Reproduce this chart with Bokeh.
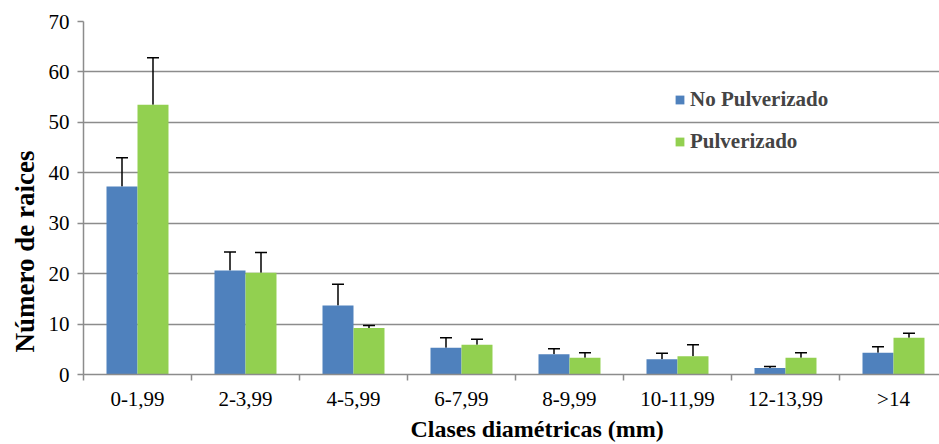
from bokeh.plotting import figure
from bokeh.models import (Range1d, FixedTicker, ColumnDataSource, Whisker, TeeHead,
                          Legend, LegendItem, Title)
from bokeh.embed import file_html
from bokeh.resources import INLINE

categories = ["0-1,99", "2-3,99", "4-5,99", "6-7,99", "8-9,99", "10-11,99", "12-13,99", ">14"]
no_pulv = [37.3, 20.6, 13.7, 5.3, 4.0, 3.0, 1.3, 4.3]
no_pulv_err = [5.7, 3.7, 4.2, 2.0, 1.1, 1.2, 0.3, 1.2]
pulv = [53.5, 20.2, 9.2, 5.9, 3.3, 3.6, 3.3, 7.3]
pulv_err = [9.3, 4.0, 0.5, 1.1, 1.0, 2.3, 1.0, 0.9]
y_ticks = [0, 10, 20, 30, 40, 50, 60, 70]
x_title = "Clases diamétricas (mm)"
y_title = "Número de raices"

BLUE = "#4F81BD"
GREEN = "#92D050"
GRID = "#8c8c8c"
FONT = "serif"

n = len(categories)
bw = 0.287
centers = [i + 0.5 for i in range(n)]
x_blue = [c - bw / 2 for c in centers]
x_green = [c + bw / 2 for c in centers]

src_b = ColumnDataSource(dict(x=x_blue, top=no_pulv,
                              up=[v + e for v, e in zip(no_pulv, no_pulv_err)]))
src_g = ColumnDataSource(dict(x=x_green, top=pulv,
                              up=[v + e for v, e in zip(pulv, pulv_err)]))

p = figure(width=939, height=444, output_backend="svg", toolbar_location=None,
           x_range=Range1d(0, 7.926), y_range=Range1d(0, 70),
           min_border_left=83, min_border_right=0, min_border_top=21,
           min_border_bottom=70)
p.outline_line_color = None
p.background_fill_color = "white"
p.border_fill_color = "white"

rb = p.vbar(x="x", top="top", width=bw, source=src_b, fill_color=BLUE, line_color=None)
rg = p.vbar(x="x", top="top", width=bw, source=src_g, fill_color=GREEN, line_color=None)

for src in (src_b, src_g):
    w = Whisker(base="x", upper="up", lower="top", source=src,
                line_color="black", line_width=1.5, lower_head=None,
                upper_head=TeeHead(size=12, line_color="black", line_width=1.5))
    p.add_layout(w)

p.xaxis.ticker = FixedTicker(ticks=centers, minor_ticks=list(range(0, n + 1)))
p.xaxis.major_label_overrides = {c: lab for c, lab in zip(centers, categories)}
p.xaxis.major_tick_out = 0
p.xaxis.major_tick_in = 0
p.xaxis.minor_tick_out = 6
p.xaxis.minor_tick_in = 0
p.xaxis.minor_tick_line_color = GRID
p.xaxis.minor_tick_line_width = 1.5
p.xaxis.axis_line_color = GRID
p.xaxis.axis_line_width = 1.5
p.xaxis.major_label_standoff = 6
p.xaxis.major_label_text_font = FONT
p.xaxis.major_label_text_font_size = "21px"
p.xaxis.major_label_text_color = "black"

p.yaxis.ticker = FixedTicker(ticks=y_ticks)
p.yaxis.minor_tick_line_color = None
p.yaxis.major_tick_out = 6
p.yaxis.major_tick_in = 0
p.yaxis.major_tick_line_color = GRID
p.yaxis.major_tick_line_width = 1.5
p.yaxis.axis_line_color = GRID
p.yaxis.axis_line_width = 1.5
p.yaxis.major_label_standoff = 8
p.yaxis.major_label_text_font = FONT
p.yaxis.major_label_text_font_size = "21px"
p.yaxis.major_label_text_color = "black"

p.xgrid.grid_line_color = None
p.ygrid.grid_line_color = GRID
p.ygrid.grid_line_width = 1.5

tx = Title(text=x_title, align="left", offset=327, standoff=0,
           text_font=FONT, text_font_style="bold", text_font_size="24px",
           text_color="black")
p.add_layout(tx, "below")
ty = Title(text=y_title, align="left", offset=22, standoff=12,
           text_font=FONT, text_font_style="bold", text_font_size="27px",
           text_color="black")
p.add_layout(ty, "left")

legend = Legend(items=[LegendItem(label="No Pulverizado", renderers=[rb]),
                       LegendItem(label="Pulverizado", renderers=[rg])],
                location=(591, 220), orientation="vertical",
                glyph_width=11, glyph_height=11, label_standoff=5,
                label_height=20, spacing=17, padding=0, margin=0,
                label_text_font=FONT, label_text_font_style="bold",
                label_text_font_size="21px",
                border_line_color=None, background_fill_alpha=0)
p.add_layout(legend)

open("out.html", "w").write(file_html(p, INLINE))
